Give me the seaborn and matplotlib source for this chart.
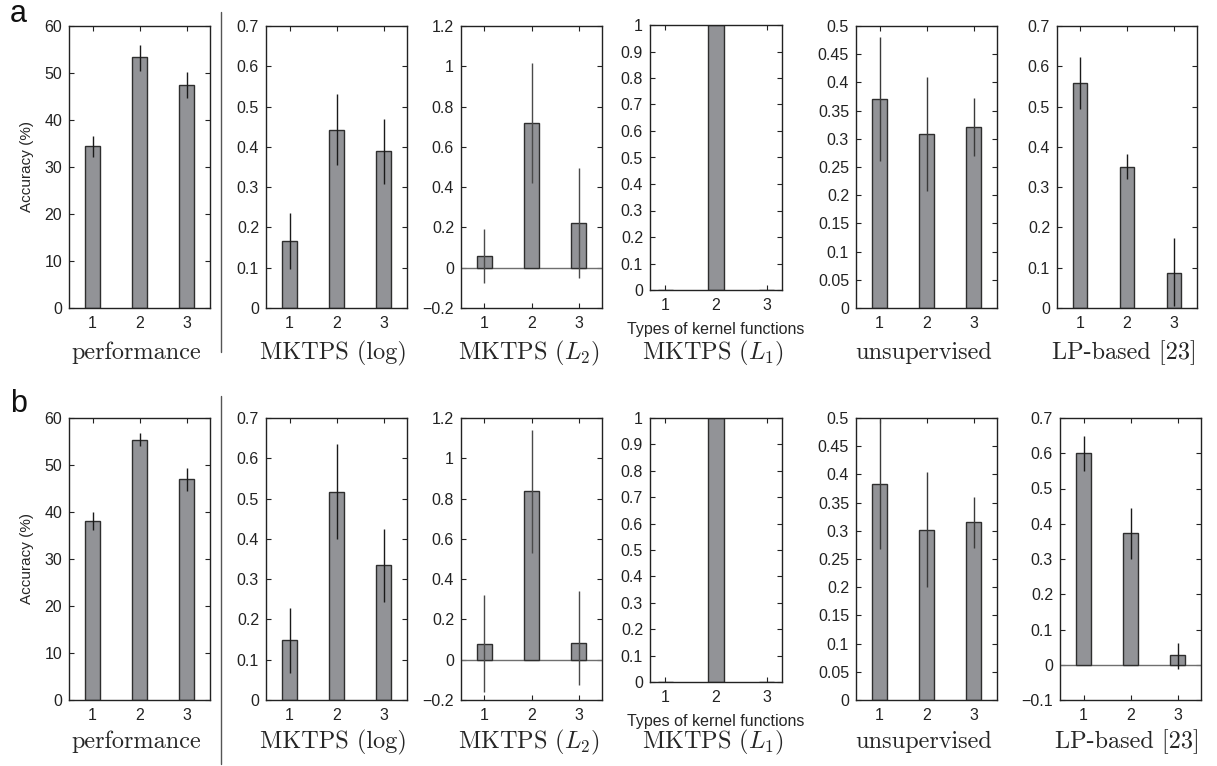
import numpy as np
import pandas as pd
import matplotlib
matplotlib.use("Agg")
import matplotlib.pyplot as plt
from matplotlib.lines import Line2D
from matplotlib.ticker import FuncFormatter, MultipleLocator
import seaborn as sns

# ---- data ---------------------------------------------------------------
kernel_types = [1, 2, 3]

# row a
perf_a = [34.4, 53.3, 47.5]
perf_a_lo = [32.2, 50.5, 44.7]
perf_a_hi = [36.6, 56.0, 50.2]

log_a = [0.167, 0.443, 0.389]
log_a_lo = [0.098, 0.355, 0.309]
log_a_hi = [0.235, 0.530, 0.469]

l2_a = [0.060, 0.717, 0.223]
l2_a_lo = [-0.074, 0.419, -0.053]
l2_a_hi = [0.190, 1.014, 0.495]

l1_a = [0.0, 1.0, 0.0]

unsup_a = [0.371, 0.309, 0.321]
unsup_a_lo = [0.260, 0.208, 0.270]
unsup_a_hi = [0.480, 0.410, 0.372]

lp_a = [0.559, 0.351, 0.088]
lp_a_lo = [0.495, 0.319, 0.006]
lp_a_hi = [0.622, 0.382, 0.173]

# row b
perf_b = [38.1, 55.4, 47.0]
perf_b_lo = [36.2, 54.0, 44.5]
perf_b_hi = [39.9, 56.8, 49.4]

log_b = [0.148, 0.516, 0.335]
log_b_lo = [0.068, 0.399, 0.244]
log_b_hi = [0.229, 0.635, 0.424]

l2_b = [0.080, 0.836, 0.083]
l2_b_lo = [-0.158, 0.529, -0.126]
l2_b_hi = [0.319, 1.142, 0.340]

l1_b = [0.0, 1.0, 0.0]

unsup_b = [0.383, 0.302, 0.315]
unsup_b_lo = [0.267, 0.200, 0.269]
unsup_b_hi = [0.498, 0.405, 0.360]

lp_b = [0.601, 0.373, 0.027]
lp_b_lo = [0.551, 0.299, -0.011]
lp_b_hi = [0.648, 0.445, 0.063]

titles = ["performance", "MKTPS (log)", "MKTPS ($L_2$)", "MKTPS ($L_1$)",
          "unsupervised", "LP-based [23]"]
row_labels = ["a", "b"]

# ---- style --------------------------------------------------------------
sns.set_style("ticks")
plt.rcParams.update({
    "font.family": ["Liberation Sans", "DejaVu Sans"],
    "mathtext.fontset": "cm",
    "xtick.direction": "in",
    "ytick.direction": "in",
    "xtick.top": True,
    "ytick.right": True,
    "xtick.major.size": 3.5,
    "ytick.major.size": 3.5,
    "xtick.major.width": 0.8,
    "ytick.major.width": 0.8,
    "xtick.color": "#222222",
    "ytick.color": "#222222",
    "xtick.labelsize": 11.5,
    "ytick.labelsize": 11.5,
    "axes.edgecolor": "#222222",
    "axes.linewidth": 1.0,
})

BAR_FILL = "#929397"
BAR_EDGE = "#2e2e2e"

W, H = 1217, 766
fig = plt.figure(figsize=(W / 100, H / 100), dpi=100)


def px_axes(x0, x1, y0, y1):
    return fig.add_axes([x0 / W, 1 - y1 / H, (x1 - x0) / W, (y1 - y0) / H])


def fmt(v, _pos):
    s = f"{round(v, 6):g}"
    return s.replace("-", "\u2212")


def panel(ax, vals, lo, hi, ylim, step, xlim=(0.5, 3.5), err_color="#1a1a1a"):
    df = pd.DataFrame({"kernel": kernel_types, "value": vals})
    sns.barplot(data=df, x="kernel", y="value", native_scale=True, width=0.3,
                color=BAR_FILL, saturation=1, edgecolor=BAR_EDGE, linewidth=1.0,
                errorbar=None, ax=ax, zorder=2)
    if ylim[0] < 0:
        ax.axhline(0, color="#6f6f6f", lw=1.0, zorder=1)
    if lo is not None:
        ax.vlines(kernel_types, lo, hi, color=err_color, lw=1.0, zorder=3)
    ax.set_xlim(*xlim)
    ax.set_ylim(*ylim)
    ax.set_xticks(kernel_types)
    ax.set_xticklabels([str(k) for k in kernel_types])
    ax.yaxis.set_major_locator(MultipleLocator(step))
    ax.yaxis.set_major_formatter(FuncFormatter(fmt))
    ax.set_xlabel("")
    ax.set_ylabel("")
    ax.tick_params(axis="x", pad=6)
    ax.tick_params(axis="y", pad=5)
    for sp in ax.spines.values():
        sp.set_visible(True)


rows = [
    dict(y0=26, y1=308, l1=(25, 290), lp_x=(1057, 1197), title_y=359, sep=(12, 352), label_y=22,
         data=[(perf_a, perf_a_lo, perf_a_hi), (log_a, log_a_lo, log_a_hi),
               (l2_a, l2_a_lo, l2_a_hi), (l1_a, None, None),
               (unsup_a, unsup_a_lo, unsup_a_hi), (lp_a, lp_a_lo, lp_a_hi)],
         lp_ylim=(0, 0.7)),
    dict(y0=418, y1=700, l1=(418, 682), lp_x=(1060, 1201), title_y=748, sep=(396, 764), label_y=412,
         data=[(perf_b, perf_b_lo, perf_b_hi), (log_b, log_b_lo, log_b_hi),
               (l2_b, l2_b_lo, l2_b_hi), (l1_b, None, None),
               (unsup_b, unsup_b_lo, unsup_b_hi), (lp_b, lp_b_lo, lp_b_hi)],
         lp_ylim=(-0.1, 0.7)),
]

for r, row in enumerate(rows):
    xs = [(69, 210), (266, 407), (461, 602), (650, 782), (856, 997), row["lp_x"]]
    specs = [((0, 60), 10, "#1a1a1a"), ((0, 0.7), 0.1, "#1a1a1a"),
             ((-0.2, 1.2), 0.2, "#4a4a4a"), ((0, 1), 0.1, "#1a1a1a"),
             ((0, 0.5), 0.05, "#3a3a3a"), (row["lp_ylim"], 0.1, "#1a1a1a")]
    for i, ((x0, x1), (vals, lo, hi), (ylim, step, ec)) in enumerate(zip(xs, row["data"], specs)):
        if i == 3:
            ax = px_axes(x0, x1, row["l1"][0], row["l1"][1])
            panel(ax, vals, lo, hi, ylim, step, xlim=(0.7, 3.3), err_color=ec)
            ax.set_xlabel("Types of kernel functions", fontsize=11.5, labelpad=6)
        else:
            ax = px_axes(x0, x1, row["y0"], row["y1"])
            panel(ax, vals, lo, hi, ylim, step, err_color=ec)
        if i == 0:
            ax.set_ylabel("Accuracy (%)", fontsize=11, labelpad=7)
        fig.text((x0 + x1) / 2 / W - 3 / W, 1 - row["title_y"] / H, titles[i],
                 family="cmr10", fontsize=17.5, ha="center", va="baseline")

    fig.text(10 / W, 1 - row["label_y"] / H, row_labels[r], fontsize=22,
             ha="left", va="baseline", color="#111111")
    fig.add_artist(Line2D([221 / W, 221 / W], [1 - row["sep"][0] / H, 1 - row["sep"][1] / H],
                          transform=fig.transFigure, color="#555555", lw=1.0))

fig.savefig("out.png", dpi=100, facecolor="white")
